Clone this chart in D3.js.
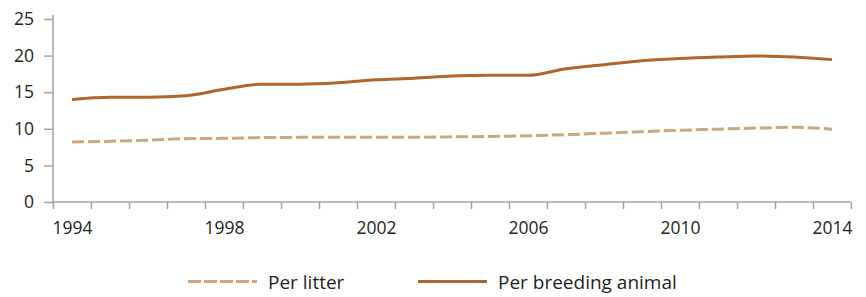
<!DOCTYPE html>
<html>
<head>
<meta charset="utf-8">
<script src="https://cdn.jsdelivr.net/npm/d3@7"></script>
<style>
  html, body { margin: 0; padding: 0; background: #fff; }
  svg { display: block; }
  text { font-family: "Open Sans", "Noto Sans", sans-serif; fill: #231f20; }
</style>
</head>
<body>
<svg id="chart" width="866" height="297"></svg>
<script>
const years = d3.range(1994, 2015);
const perLitter = [8.2, 8.3, 8.45, 8.65, 8.7, 8.8, 8.83, 8.85, 8.85, 8.85, 8.9, 8.95, 9.05, 9.2, 9.4, 9.6, 9.8, 9.95, 10.1, 10.2, 9.95];
const perBreedingAnimal = [14.0, 14.3, 14.3, 14.5, 15.4, 16.1, 16.1, 16.3, 16.7, 16.9, 17.2, 17.3, 17.3, 18.2, 18.75, 19.3, 19.6, 19.8, 19.95, 19.8, 19.45];
const yTicks = [0, 5, 10, 15, 20, 25];
const xLabelYears = [1994, 1998, 2002, 2006, 2010, 2014];
const seriesNames = ["Per litter", "Per breeding animal"];

const svg = d3.select("#chart");
const mLeft = 53, mRight = 851, mTop = 19, mBottom = 202;

const x = d3.scaleLinear().domain([1993.5, 2014.5]).range([mLeft, mRight]);
const y = d3.scaleLinear().domain([0, 25]).range([mBottom, mTop]);

const axisColor = "#a3a3a3";

// Y axis
const yAxis = svg.append("g").attr("transform", `translate(${mLeft},0)`)
  .call(d3.axisLeft(y).tickValues(yTicks).tickSize(9).tickPadding(10).tickFormat(d3.format("d")));
yAxis.select(".domain").attr("stroke", axisColor).attr("stroke-width", 1.5).attr("d", `M0,${mTop - 4}V${mBottom}`);
yAxis.selectAll(".tick line").attr("stroke", axisColor).attr("stroke-width", 1.5);
yAxis.selectAll(".tick text").style("font-size", "17.5px").attr("fill", "#231f20");

// X axis: boundary ticks
const boundaries = d3.range(1993.5, 2015, 1);
const xAxis = svg.append("g").attr("transform", `translate(0,${mBottom})`)
  .call(d3.axisBottom(x).tickValues(boundaries).tickSize(7).tickFormat(""));
xAxis.select(".domain").attr("stroke", axisColor).attr("stroke-width", 1.5).attr("d", `M${mLeft},0H${mRight}`);
xAxis.selectAll(".tick line").attr("stroke", axisColor).attr("stroke-width", 1.5);

// X labels
const xLab = svg.append("g").attr("transform", `translate(0,${mBottom})`)
  .call(d3.axisBottom(x).tickValues(xLabelYears).tickSize(0).tickPadding(20).tickFormat(d3.format("d")));
xLab.select(".domain").remove();
xLab.selectAll(".tick text").style("font-size", "17.5px").attr("fill", "#231f20");

const line = d3.line().x((d, i) => x(years[i])).y(d => y(d)).curve(d3.curveMonotoneX);

const colors = ["#d2a47c", "#b0652a"];

svg.append("path").datum(perLitter).attr("d", line)
  .attr("fill", "none").attr("stroke", colors[0]).attr("stroke-width", 3)
  .attr("stroke-dasharray", "12,4");
svg.append("path").datum(perBreedingAnimal).attr("d", line)
  .attr("fill", "none").attr("stroke", colors[1]).attr("stroke-width", 3);

// Legend
const legendItems = [
  { name: seriesNames[0], color: colors[0], dash: "13,3", x0: 188 },
  { name: seriesNames[1], color: colors[1], dash: null, x0: 418 }
];
const lg = svg.append("g");
legendItems.forEach(it => {
  const l = lg.append("line").attr("x1", it.x0).attr("x2", it.x0 + 69)
    .attr("y1", 281.5).attr("y2", 281.5)
    .attr("stroke", it.color).attr("stroke-width", 3);
  if (it.dash) l.attr("stroke-dasharray", it.dash);
  lg.append("text").attr("x", it.x0 + 80).attr("y", 289)
    .style("font-size", "19px").text(it.name);
});
</script>
</body>
</html>
